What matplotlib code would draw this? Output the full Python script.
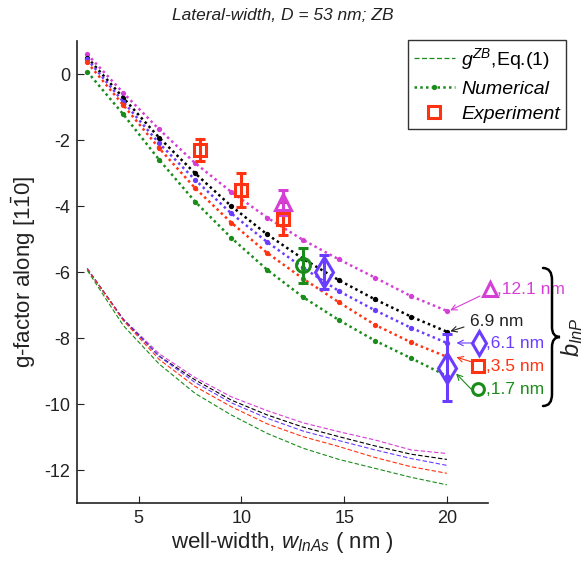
import matplotlib
matplotlib.use("Agg")
import matplotlib.pyplot as plt
from matplotlib.lines import Line2D
from matplotlib.path import Path
from matplotlib.patches import PathPatch

plt.rcParams['font.family'] = ['Liberation Sans', 'DejaVu Sans']
plt.rcParams['mathtext.fontset'] = 'custom'
plt.rcParams['mathtext.rm'] = 'Liberation Sans'
plt.rcParams['mathtext.it'] = 'Liberation Sans:italic'
plt.rcParams['axes.unicode_minus'] = False

# ---------------- data ----------------
widths = [2.5, 4.25, 6, 7.75, 9.5, 11.25, 13, 14.75, 16.5, 18.25, 20]
b_labels = ["12.1 nm", "6.9 nm", "6.1 nm", "3.5 nm", "1.7 nm"]
colors = ['#d63fd6', '#000000', '#6a3cff', '#ff3311', '#1a8c1a']

num_12p1 = [0.6, -0.57, -1.68, -2.7, -3.57, -4.35, -5.03, -5.62, -6.17, -6.73, -7.18]
num_6p9 = [0.5, -0.72, -1.93, -3.01, -4.0, -4.86, -5.6, -6.25, -6.83, -7.35, -7.81]
num_6p1 = [0.45, -0.84, -2.1, -3.21, -4.22, -5.09, -5.87, -6.58, -7.16, -7.69, -8.15]
num_3p5 = [0.35, -0.94, -2.25, -3.46, -4.5, -5.42, -6.2, -6.92, -7.6, -8.13, -8.57]
num_1p7 = [0.07, -1.22, -2.6, -3.87, -4.96, -5.93, -6.76, -7.46, -8.08, -8.61, -9.15]

eq_12p1 = [-5.9, -7.42, -8.48, -9.2, -9.78, -10.2, -10.57, -10.84, -11.09, -11.39, -11.5]
eq_6p9 = [-5.9, -7.44, -8.55, -9.27, -9.88, -10.33, -10.7, -10.99, -11.27, -11.52, -11.68]
eq_6p1 = [-5.9, -7.45, -8.56, -9.35, -9.96, -10.43, -10.82, -11.11, -11.39, -11.65, -11.86]
eq_3p5 = [-5.9, -7.47, -8.65, -9.47, -10.08, -10.6, -10.99, -11.29, -11.62, -11.9, -12.1]
eq_1p7 = [-5.95, -7.62, -8.79, -9.68, -10.33, -10.89, -11.34, -11.68, -11.95, -12.22, -12.45]

exp_sq_x = [8, 10, 12]
exp_sq_y = [-2.3, -3.52, -4.39]
exp_sq_err = [0.33, 0.52, 0.5]
exp_tri_x = [12]
exp_tri_y = [-3.88]
exp_tri_err = [0.38]
exp_circ_x = [13]
exp_circ_y = [-5.8]
exp_circ_err = [0.52]
exp_dia_x = [14, 20]
exp_dia_y = [-6.0, -8.9]
exp_dia_err = [0.52, 1.02]

num_sets = [num_12p1, num_6p9, num_6p1, num_3p5, num_1p7]
eq_sets = [eq_12p1, eq_6p9, eq_6p1, eq_3p5, eq_1p7]

# ---------------- figure ----------------
W, H = 584, 564
fig = plt.figure(figsize=(W / 100, H / 100), dpi=100)
ax = fig.add_axes([77 / W, 1 - 503 / H, (488 - 77) / W, (503 - 41) / H])

for c, e in zip(colors, eq_sets):
    ax.plot(widths, e, color=c, lw=0.8, ls=(0, (4, 2)))
for c, n in zip(colors, num_sets):
    ax.plot(widths, n, color=c, lw=1.8, ls=(0, (1, 1.3)), marker='o', ms=3.8,
            markeredgewidth=0)

ekw = dict(elinewidth=2.2, capsize=3.5, capthick=2.2, ls='none', mfc='none',
           mew=2.2)
ax.errorbar(exp_sq_x, exp_sq_y, yerr=exp_sq_err, fmt='s', color=colors[3], ms=9, **ekw)
ax.errorbar(exp_tri_x, exp_tri_y, yerr=exp_tri_err, fmt='^', color=colors[0], ms=12, **ekw)
ax.errorbar(exp_circ_x, exp_circ_y, yerr=exp_circ_err, fmt='o', color=colors[4], ms=10, **ekw)
ax.errorbar(exp_dia_x, exp_dia_y, yerr=exp_dia_err, fmt='d', color=colors[2], ms=15, **ekw)

ax.set_xlim(2, 22)
ax.set_ylim(-13, 1)
ax.set_xticks([5, 10, 15, 20])
ax.set_yticks([0, -2, -4, -6, -8, -10, -12])
ax.tick_params(direction='in', length=5, labelsize=13, colors='#222222', pad=5)
ax.spines['top'].set_visible(False)
ax.spines['right'].set_visible(False)
for s in ('left', 'bottom'):
    ax.spines[s].set_linewidth(1.2)
    ax.spines[s].set_color('#222222')

ax.set_xlabel(r"well-width, $w_{InAs}$ ( nm )", fontsize=16, color='#222222', labelpad=2)
ax.set_ylabel(r"g-factor along [1$\mathrm{\bar{1}}$0]", fontsize=16, color='#222222', labelpad=4)
fig.text(0.5 * (77 + 488) / W, 1 - 16 / H, "Lateral-width, D = 53 nm; ZB", style='italic',
         fontsize=12.5, color='#222222', ha='center', va='center')

# legend
handles = [Line2D([], [], color=colors[4], lw=0.9, ls=(0, (4, 2))),
           Line2D([], [], color=colors[4], lw=1.8, ls=(0, (1, 1.3)), marker='o', ms=3.8, mew=0),
           Line2D([], [], color=colors[3], ls='none', marker='s', ms=8, mfc='none', mew=2.2)]
leg = fig.legend(handles, [r"$g^{ZB}$,Eq.(1)", "Numerical", "Experiment"],
                 loc='upper right', bbox_to_anchor=(566 / W, 1 - 40 / H),
                 fontsize=14, frameon=True, fancybox=False, edgecolor='black',
                 handlelength=2.1, borderpad=0.3, labelspacing=0.42, handletextpad=0.35,
                 borderaxespad=0)
leg.get_frame().set_linewidth(1.0)
leg.get_texts()[1].set_style('italic')
leg.get_texts()[2].set_style('italic')

# right-hand annotations
def px2data(px, py):
    return (2 + (px - 77) / 20.55, (74 - py) / 33.0)

akw = dict(arrowstyle='->', lw=0.8, shrinkA=0, shrinkB=1, mutation_scale=10)
ann = [
    # marker, marker px, text px, arrow tail px, arrow head (data)
    ('^', (490, 289), (497, 289), (480, 296), (20.1, num_12p1[-1])),
    (None, None, (470, 321), (464, 327), (20.1, num_6p9[-1])),
    ('d', (479, 343), (486, 343), (474, 343), (20.4, num_6p1[-1])),
    ('s', (478, 366), (486, 366), (472, 362), (20.4, num_3p5[-1] + 0.0)),
    ('o', (478, 389), (486, 389), (472, 390), (20.4, num_1p7[-1] + 0.1)),
]
msz = {'^': 10, 'd': 12, 's': 8, 'o': 8.5}
for (mk, mpx, tpx, apx, head), c, lab in zip(ann, colors, b_labels):
    tcol = '#222222' if c == '#000000' else c
    if mk is not None:
        ax.plot(*px2data(*mpx), marker=mk, ms=msz[mk], mfc='none', mec=c, mew=2.2,
                clip_on=False)
        txt = "," + lab
    else:
        txt = lab
    ax.text(*px2data(*tpx), txt, color=tcol, fontsize=12.5, ha='left', va='center',
            clip_on=False)
    ax.annotate('', xy=head, xytext=px2data(*apx),
                arrowprops=dict(color=c if c != '#000000' else '#222222', **akw),
                annotation_clip=False)

# brace
def fx(px):
    return px / W
def fy(py):
    return 1 - py / H
bx0, bx1, bx2 = 543, 552, 560
top, mid, bot = 268, 337, 406
verts = [(bx0, top), (bx1, top), (bx1, top + 12),
         (bx1, mid - 10),
         (bx1, mid), (bx2, mid),
         (bx1, mid), (bx1, mid + 10),
         (bx1, bot - 12),
         (bx1, bot), (bx0, bot)]
codes = [Path.MOVETO, Path.CURVE3, Path.CURVE3,
         Path.LINETO,
         Path.CURVE3, Path.CURVE3,
         Path.CURVE3, Path.CURVE3,
         Path.LINETO,
         Path.CURVE3, Path.CURVE3]
path = Path([(fx(x), fy(y)) for x, y in verts], codes)
fig.add_artist(PathPatch(path, transform=fig.transFigure, fill=False, lw=1.8,
                         edgecolor='black', capstyle='round'))
fig.text(fx(572), fy(337), r"$b_{InP}$", rotation=90, fontsize=17, ha='center',
         va='center', color='#222222')

fig.savefig("out.png", dpi=100)
